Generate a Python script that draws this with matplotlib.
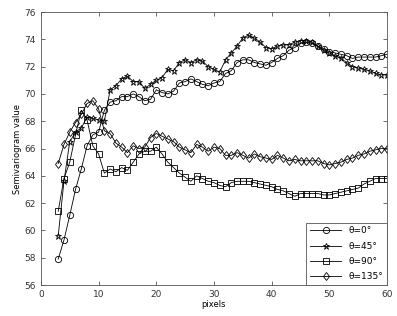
import numpy as np
import matplotlib.pyplot as plt

lags = np.arange(3, 61)

theta0 = [57.9, 59.3, 61.1, 63.0, 64.5, 66.2, 67.0, 67.2, 68.8, 69.4,
          69.5, 69.8, 69.8, 70.0, 69.8, 69.5, 69.6, 70.3, 70.1, 70.0,
          70.2, 70.8, 70.9, 71.1, 70.9, 70.7, 70.6, 70.8, 70.9, 71.5,
          71.7, 72.3, 72.5, 72.5, 72.3, 72.2, 72.1, 72.3, 72.6, 72.8,
          73.2, 73.4, 73.7, 73.8, 73.7, 73.5, 73.3, 73.1, 73.0, 72.9,
          72.8, 72.6, 72.7, 72.7, 72.7, 72.7, 72.8, 72.9]
theta45 = [59.6, 63.6, 66.5, 67.2, 67.5, 68.3, 68.2, 68.1, 68.0, 70.3,
           70.6, 71.1, 71.3, 70.9, 70.9, 70.4, 70.7, 71.0, 71.2, 71.8,
           71.7, 72.3, 72.5, 72.3, 72.5, 72.4, 72.0, 71.8, 71.6, 72.5,
           73.0, 73.5, 74.1, 74.3, 74.1, 73.8, 73.4, 73.3, 73.5, 73.6,
           73.6, 73.8, 73.9, 73.9, 73.8, 73.5, 73.2, 73.0, 72.8, 72.6,
           72.3, 72.0, 71.9, 71.8, 71.7, 71.5, 71.4, 71.4]
theta90 = [61.4, 63.8, 65.0, 67.0, 68.8, 68.1, 66.2, 65.6, 64.2, 64.5,
           64.3, 64.6, 64.4, 65.0, 65.6, 65.8, 65.8, 66.1, 65.6, 65.0,
           64.6, 64.2, 63.9, 63.6, 64.0, 63.8, 63.6, 63.5, 63.3, 63.2,
           63.5, 63.6, 63.6, 63.6, 63.5, 63.4, 63.3, 63.2, 63.0, 62.9,
           62.7, 62.5, 62.7, 62.7, 62.7, 62.7, 62.6, 62.6, 62.7, 62.8,
           62.9, 63.0, 63.1, 63.4, 63.6, 63.8, 63.8, 63.8]
theta135 = [64.9, 66.3, 67.2, 67.9, 68.5, 69.3, 69.5, 68.9, 67.3, 67.1,
            66.4, 66.1, 65.7, 66.2, 66.0, 66.1, 66.8, 67.1, 66.9, 66.7,
            66.5, 66.1, 65.9, 65.7, 66.3, 66.1, 65.8, 66.1, 66.0, 65.5,
            65.5, 65.7, 65.5, 65.3, 65.6, 65.4, 65.3, 65.2, 65.5, 65.3,
            65.1, 65.2, 65.1, 65.1, 65.1, 65.1, 64.9, 64.8, 64.9, 65.0,
            65.2, 65.3, 65.5, 65.6, 65.8, 65.9, 66.0, 66.0]

fig = plt.figure(figsize=(3.97, 3.16), dpi=100)
ax = fig.add_axes([0.103, 0.098, 0.872, 0.864])

style = dict(color='black', lw=0.6, markersize=4.5, markerfacecolor='none', markeredgewidth=0.6)
ax.plot(lags, theta0, marker='o', label='θ=0°', **style)
ax.plot(lags, theta45, marker='*', label='θ=45°', **style)
ax.plot(lags, theta90, marker='s', label='θ=90°', **style)
ax.plot(lags, theta135, marker='d', label='θ=135°', **style)

ax.set_xlim(0, 60)
ax.set_ylim(56, 76)
ax.set_xticks(np.arange(0, 61, 10))
ax.set_yticks(np.arange(56, 77, 2))
ax.tick_params(direction='in', top=True, right=True, labelsize=6.5, length=3, width=0.5, colors='#333333')
for s in ax.spines.values():
    s.set_linewidth(0.6)
    s.set_color('#555555')
ax.set_xlabel('pixels', fontsize=6, labelpad=1)
ax.set_ylabel('Semivariogram value', fontsize=6, labelpad=2)

leg = ax.legend(loc='lower right', fontsize=6.5, fancybox=False, framealpha=1,
                edgecolor='#555555', borderaxespad=0, handlelength=3.5, labelspacing=0.7)
leg.get_frame().set_linewidth(0.6)

fig.savefig('out.png')
